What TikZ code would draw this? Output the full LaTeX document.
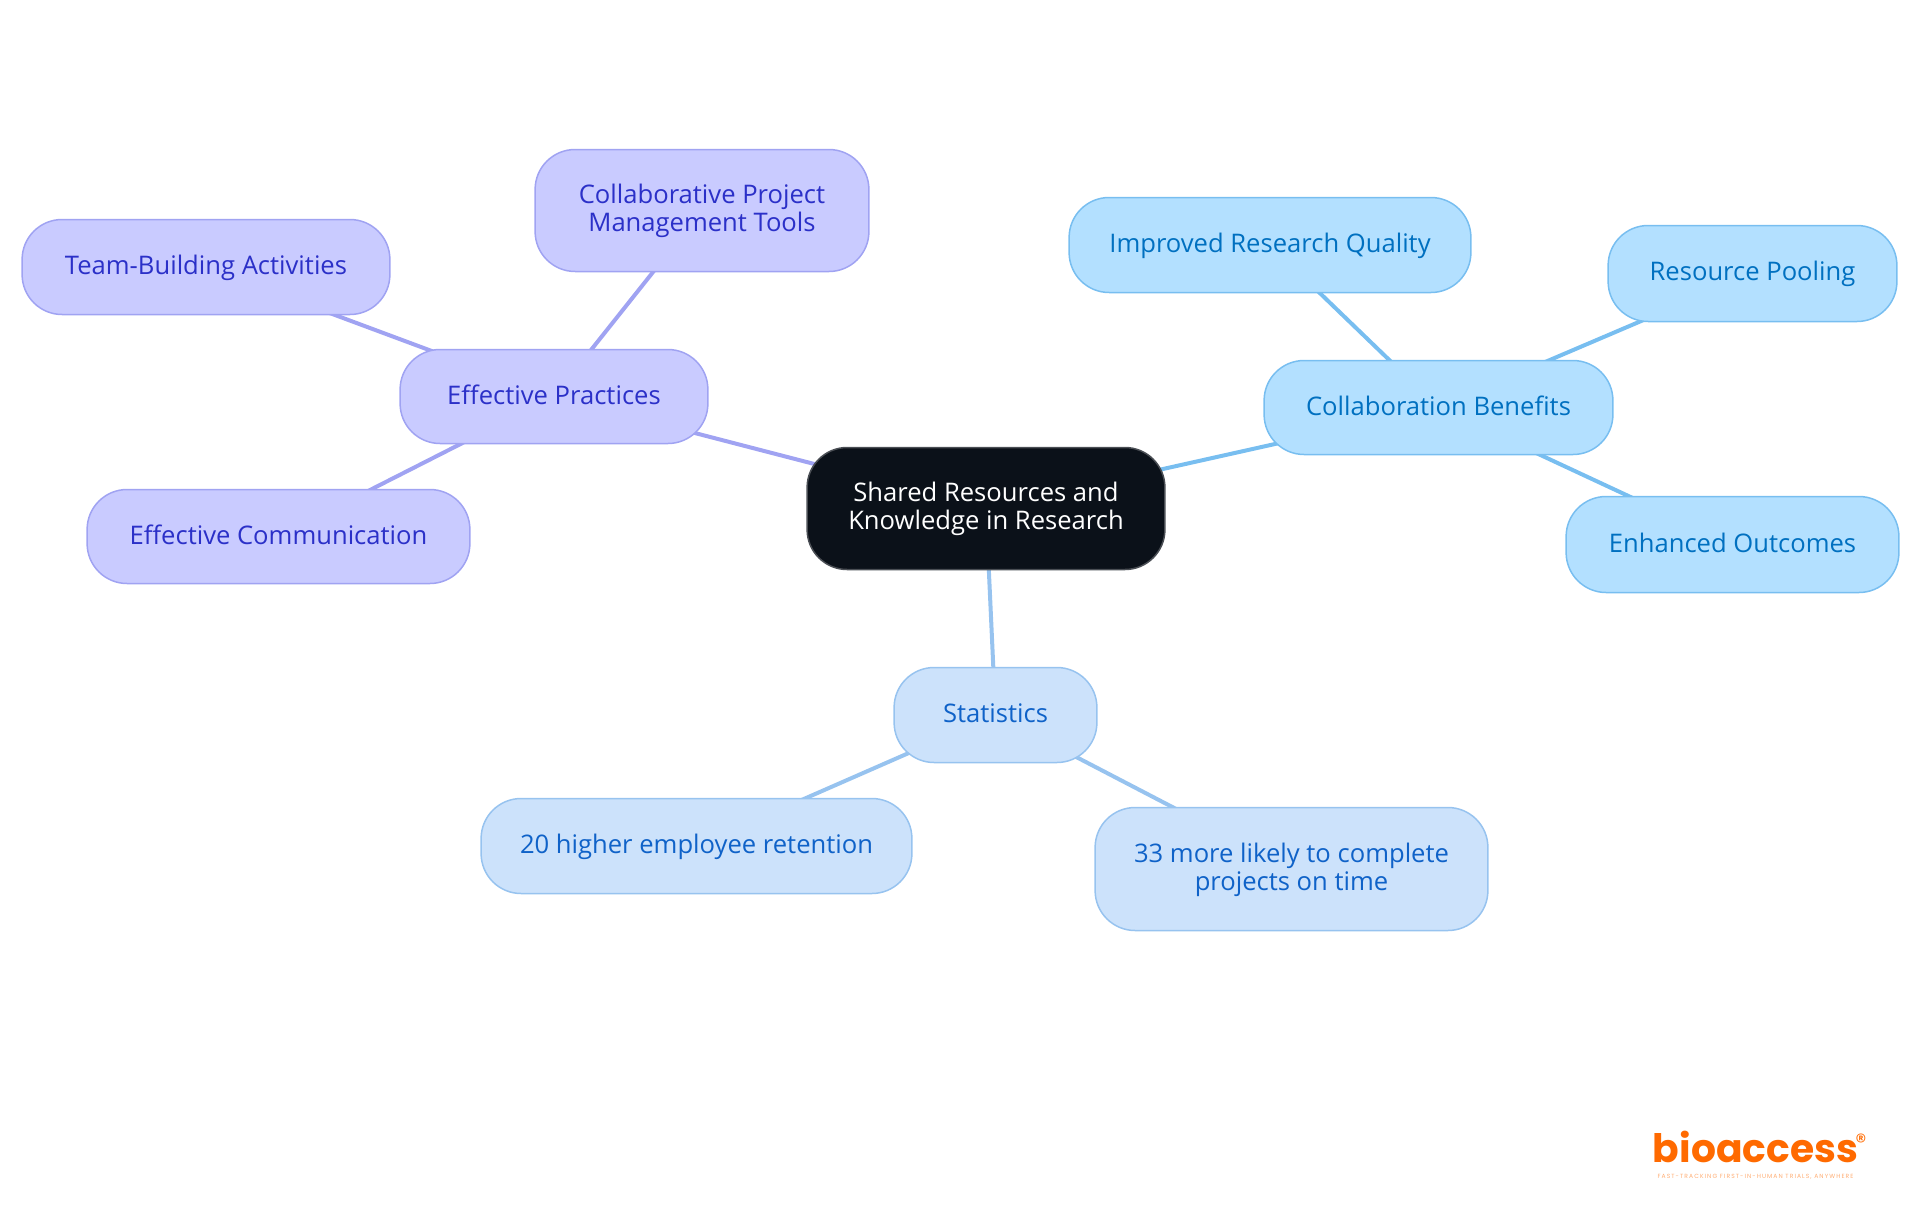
\documentclass[tikz,border=0pt]{standalone}
\usepackage{fontspec}
\setmainfont{Open Sans}
\newfontfamily\logofont{Poppins}
\newfontfamily\logotagfont[LetterSpace=18]{Poppins}
\pgfdeclarelayer{edges}
\pgfsetlayers{edges,main}
\definecolor{rootfill}{HTML}{0B1119}
\definecolor{rootline}{HTML}{4A4E54}
\definecolor{purfill}{HTML}{C9CBFF}
\definecolor{purline}{HTML}{A0A3F2}
\definecolor{purtext}{HTML}{2B30C8}
\definecolor{bluefill}{HTML}{B3E0FF}
\definecolor{blueline}{HTML}{78BEF0}
\definecolor{bluetext}{HTML}{0070C0}
\definecolor{statfill}{HTML}{CCE2FB}
\definecolor{statline}{HTML}{97C3EF}
\definecolor{stattext}{HTML}{0F62C8}
\definecolor{logoorange}{HTML}{FF6A00}
\tikzset{
  mm/.style={rounded corners=20pt, line width=0.75pt, inner sep=0pt, align=center,
    font=\fontsize{12.8}{14}\selectfont},
  rootnode/.style={mm, fill=rootfill, draw=rootline, text=white},
  purnode/.style={mm, fill=purfill, draw=purline, text=purtext},
  bluenode/.style={mm, fill=bluefill, draw=blueline, text=bluetext},
  statnode/.style={mm, fill=statfill, draw=statline, text=stattext},
  puredge/.style={draw=purline, line width=2pt},
  blueedge/.style={draw=blueline, line width=2pt},
  statedge/.style={draw=statline, line width=2pt},
}
\newcommand{\tl}[1]{\rule[-3pt]{0pt}{13.5pt}#1}
\newcommand{\mmnode}[7]{% style,name,x0,y0,x1,y1,text
  \node[#1, minimum width=#5pt*0.5-#3pt*0.5-0.1pt, minimum height=#6pt*0.5-#4pt*0.5-0.5pt] (#2) at ({(#3+#5)/2},{(#4+#6)/2}) {#7};}
\begin{document}
\begin{tikzpicture}[x=0.5pt,y=-0.5pt]
\useasboundingbox (0,0) rectangle (1920,1215);
\mmnode{rootnode}{root}{807}{447}{1165}{570}{\tl{Shared Resources and}\\\tl{Knowledge in Research}}
\mmnode{purnode}{ep}{400}{349}{708}{444}{\tl{Effective Practices}}
\mmnode{purnode}{cpm}{535}{149}{869}{272}{\tl{Collaborative Project}\\\tl{Management Tools}}
\mmnode{purnode}{tb}{22}{219}{390}{315}{\tl{Team-Building Activities}}
\mmnode{purnode}{ec}{87}{489}{470}{584}{\tl{Effective Communication}}
\mmnode{bluenode}{cb}{1264}{360}{1613}{455}{\tl{Collaboration Benefits}}
\mmnode{bluenode}{irq}{1069}{197}{1471}{293}{\tl{Improved Research Quality}}
\mmnode{bluenode}{rp}{1608}{225}{1897}{322}{\tl{Resource Pooling}}
\mmnode{bluenode}{eo}{1566}{496}{1899}{593}{\tl{Enhanced Outcomes}}
\mmnode{statnode}{st}{894}{667}{1097}{763}{\tl{Statistics}}
\mmnode{statnode}{ret}{481}{798}{912}{894}{\tl{20 higher employee retention}}
\mmnode{statnode}{otm}{1095}{807}{1488}{931}{\tl{33 more likely to complete}\\\tl{projects on time}}
\begin{pgfonlayer}{edges}
\draw[puredge] (root.center) -- (ep.center);
\draw[puredge] (ep.center) -- (cpm.center);
\draw[puredge] (ep.center) -- (tb.center);
\draw[puredge] (ep.center) -- (ec.center);
\draw[blueedge] (root.center) -- (cb.center);
\draw[blueedge] (cb.center) -- (irq.center);
\draw[blueedge] (cb.center) -- (rp.center);
\draw[blueedge] (cb.center) -- (eo.center);
\draw[statedge] (root.center) -- (st.center);
\draw[statedge] (st.center) -- (ret.center);
\draw[statedge] (st.center) -- (otm.center);
\end{pgfonlayer}
\node[text=logoorange, font=\logofont\bfseries\fontsize{19.6}{20}\selectfont, inner sep=0pt, anchor=base] (logo) at (1755.5,1162) {bioaccess};
\node[text=logoorange, font=\logofont\fontsize{11}{11}\selectfont, inner sep=0pt] (reg) at (1861,1142) {®};
\node[text=logoorange!55, font=\logotagfont\fontsize{3}{3}\selectfont, inner sep=0pt] (tag) at (1755.5,1177) {FAST-TRACKING FIRST-IN-HUMAN TRIALS, ANYWHERE};
\end{tikzpicture}
\end{document}
